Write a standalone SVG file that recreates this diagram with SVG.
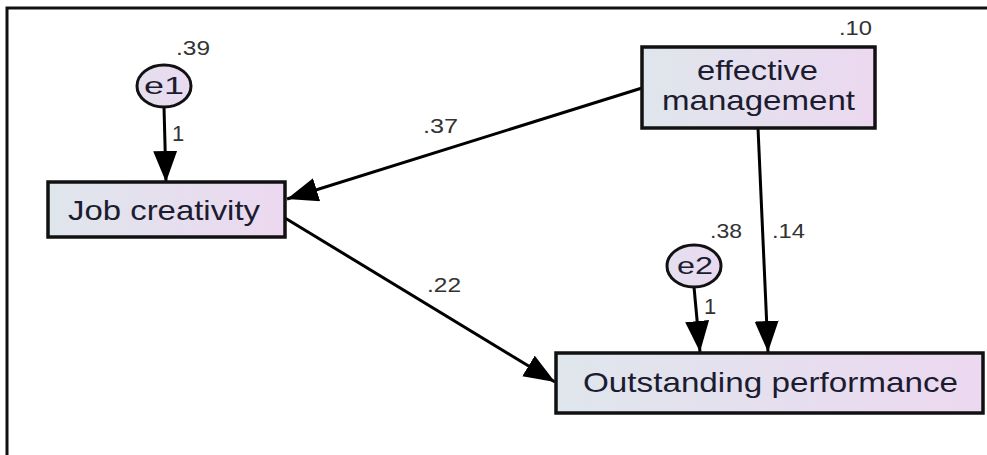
<svg xmlns="http://www.w3.org/2000/svg" width="987" height="455" viewBox="0 0 987 455">
  <defs>
    <linearGradient id="boxFill" x1="0" y1="0" x2="1" y2="0">
      <stop offset="0" stop-color="#dfe6ec"/>
      <stop offset="1" stop-color="#ecd8f0"/>
    </linearGradient>
    <linearGradient id="ellFill" x1="0" y1="0" x2="1" y2="0">
      <stop offset="0" stop-color="#e4e0ee"/>
      <stop offset="1" stop-color="#ead9f0"/>
    </linearGradient>
    <marker id="arrow" markerUnits="userSpaceOnUse" markerWidth="32" markerHeight="26" refX="31" refY="12" orient="auto">
      <path d="M0,0 L31,12 L0,24 Z" fill="#000"/>
    </marker>
    <style>
      .box { fill: url(#boxFill); stroke: #111; stroke-width: 3.5; }
      .ell { fill: url(#ellFill); stroke: #111; stroke-width: 3; }
      .node { font-family: "Liberation Sans", Arial, sans-serif; font-size: 28.5px; fill: #1c1c30; }
      .enode { font-family: "Liberation Sans", Arial, sans-serif; font-size: 24px; fill: #1c1c30; }
      .lbl { font-family: "Liberation Sans", Arial, sans-serif; font-size: 20px; fill: #333; }
      .one { font-family: "Liberation Sans", Arial, sans-serif; font-size: 22px; fill: #333; }
      .edge { stroke: #000; stroke-width: 3; fill: none; marker-end: url(#arrow); }
    </style>
  </defs>
  <rect width="987" height="455" fill="#fff"/>
  <path d="M7,455 V8 H987" fill="none" stroke="#111" stroke-width="3"/>

  <g id="connectors">
    <line class="edge" x1="164" y1="107" x2="166" y2="182"/>
    <line class="edge" x1="642" y1="88" x2="287" y2="199"/>
    <line class="edge" x1="285" y1="218" x2="555" y2="382"/>
    <line class="edge" x1="694" y1="287" x2="700" y2="352"/>
    <line class="edge" x1="758" y1="128" x2="768" y2="352"/>
    <text class="one" x="172" y="141">1</text>
    <text class="lbl" x="423" y="133" textLength="35" lengthAdjust="spacingAndGlyphs">.37</text>
    <text class="lbl" x="427" y="292" textLength="34" lengthAdjust="spacingAndGlyphs">.22</text>
    <text class="one" x="704" y="314">1</text>
    <text class="lbl" x="772" y="238" textLength="33" lengthAdjust="spacingAndGlyphs">.14</text>
  </g>

  <g id="e1">
    <ellipse class="ell" cx="164" cy="86" rx="27" ry="21"/>
    <text class="enode" x="164" y="94" text-anchor="middle" textLength="40" lengthAdjust="spacingAndGlyphs">e1</text>
    <text class="lbl" x="176" y="55" textLength="34" lengthAdjust="spacingAndGlyphs">.39</text>
  </g>

  <g id="e2">
    <ellipse class="ell" cx="694" cy="266" rx="27" ry="21"/>
    <text class="enode" x="695" y="274" text-anchor="middle" textLength="36" lengthAdjust="spacingAndGlyphs">e2</text>
    <text class="lbl" x="710" y="238" textLength="32" lengthAdjust="spacingAndGlyphs">.38</text>
  </g>

  <g id="job-creativity">
    <rect class="box" x="48" y="182" width="237" height="55"/>
    <text class="node" x="164" y="220" text-anchor="middle" textLength="192" lengthAdjust="spacingAndGlyphs">Job creativity</text>
  </g>

  <g id="effective-management">
    <rect class="box" x="642" y="47" width="233" height="81"/>
    <text class="node" x="757.5" y="80" text-anchor="middle" textLength="121" lengthAdjust="spacingAndGlyphs">effective</text>
    <text class="node" x="758.5" y="110" text-anchor="middle" textLength="193" lengthAdjust="spacingAndGlyphs">management</text>
    <text class="lbl" x="839" y="35" textLength="33" lengthAdjust="spacingAndGlyphs">.10</text>
  </g>

  <g id="outstanding-performance">
    <rect class="box" x="556" y="353" width="427" height="60"/>
    <text class="node" x="770.5" y="392" text-anchor="middle" textLength="375" lengthAdjust="spacingAndGlyphs">Outstanding performance</text>
  </g>
</svg>
